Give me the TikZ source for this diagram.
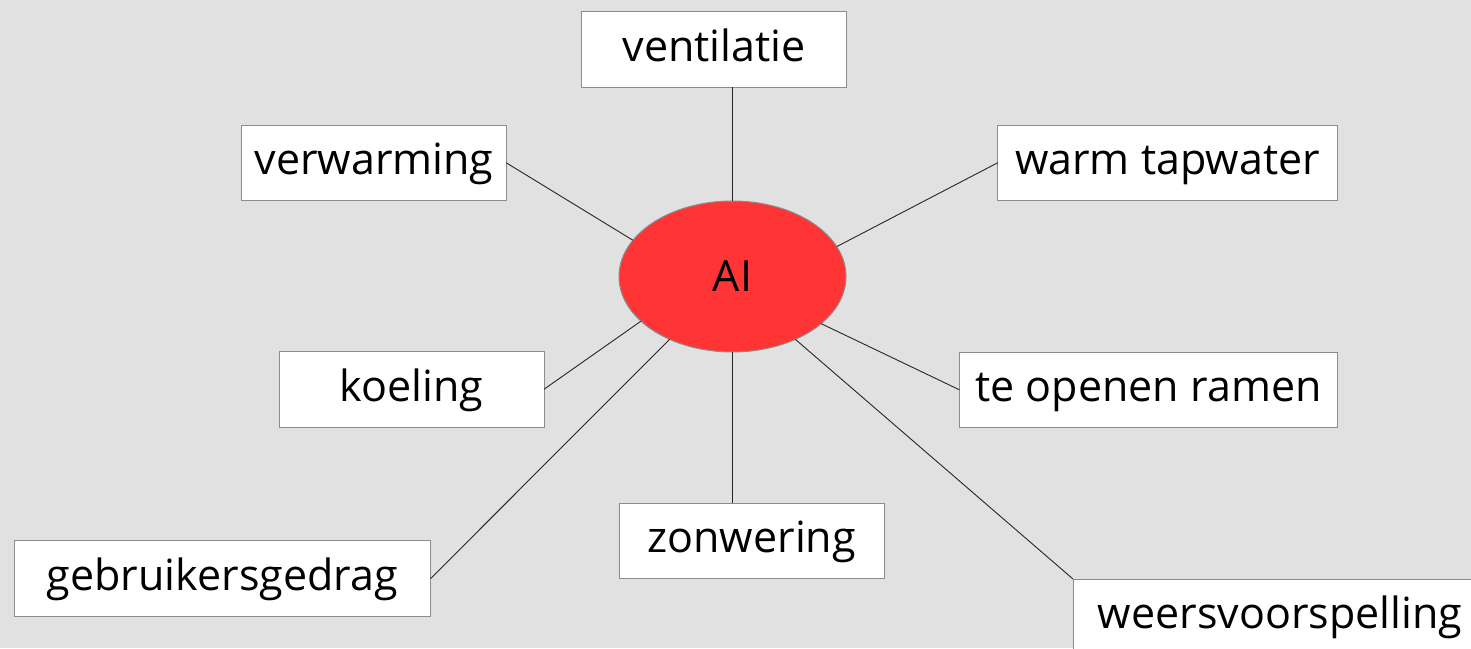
\documentclass[tikz,border=0pt]{standalone}
\usepackage{fontspec}
\setmainfont{Open Sans}
\usetikzlibrary{shapes.geometric}
\definecolor{bg}{HTML}{E1E1E1}
\definecolor{aired}{HTML}{FF3535}
\definecolor{boxline}{HTML}{8C8C8C}
\begin{document}
\begin{tikzpicture}[x=1pt,y=-1pt,
  lbl/.style={draw=boxline, fill=white, line width=1pt, inner sep=0pt, outer sep=0pt,
    minimum height=75.5pt, text height=32pt, text depth=8pt,
    font=\fontsize{43}{50}\selectfont, anchor=north west},
  conn/.style={draw=black!85, line width=0.9pt}]
\clip (0,0) rectangle (1471,648);
\fill[bg] (0,0) rectangle (1471,648);
\useasboundingbox (0,0) rectangle (1471,648);
% central ellipse
\node[ellipse, draw=boxline, fill=aired, line width=1pt, inner sep=0pt, outer sep=0pt,
  minimum width=227pt, minimum height=151pt,
  font=\fontsize{43}{50}\selectfont] (ai) at (732.5,276.5) {AI};
% boxes
\node[lbl, minimum width=265pt] (vent) at (581.7,11.7) {ventilatie};
\node[lbl, minimum width=264.5pt] (verw) at (241.7,125) {verwarming};
\node[lbl, minimum width=339.6pt] (tap) at (997.7,125) {warm tapwater};
\node[lbl, minimum width=264.7pt] (koel) at (279.3,351.5) {koeling};
\node[lbl, minimum width=378.4pt] (ramen) at (959.3,352) {te openen ramen};
\node[lbl, minimum width=264.7pt] (zon) at (619.3,503) {zonwering};
\node[lbl, minimum width=416.7pt] (gebr) at (14,540.7) {gebruikersgedrag};
\node[lbl, minimum width=414pt] (weer) at (1073,579) {weersvoorspelling};
% connectors
\draw[conn] (vent.south -| ai.north) -- (ai.north);
\draw[conn] (verw.east) -- (ai.160);
\draw[conn] (tap.west) -- (ai.16);
\draw[conn] (koel.east) -- (ai.206.5);
\draw[conn] (ramen.west) -- (ai.332.5);
\draw[conn] (gebr.east) -- (ai.225.5);
\draw[conn] (zon.north -| ai.south) -- (ai.south);
\draw[conn] (weer.north west) -- (ai.315.5);
\end{tikzpicture}
\end{document}
